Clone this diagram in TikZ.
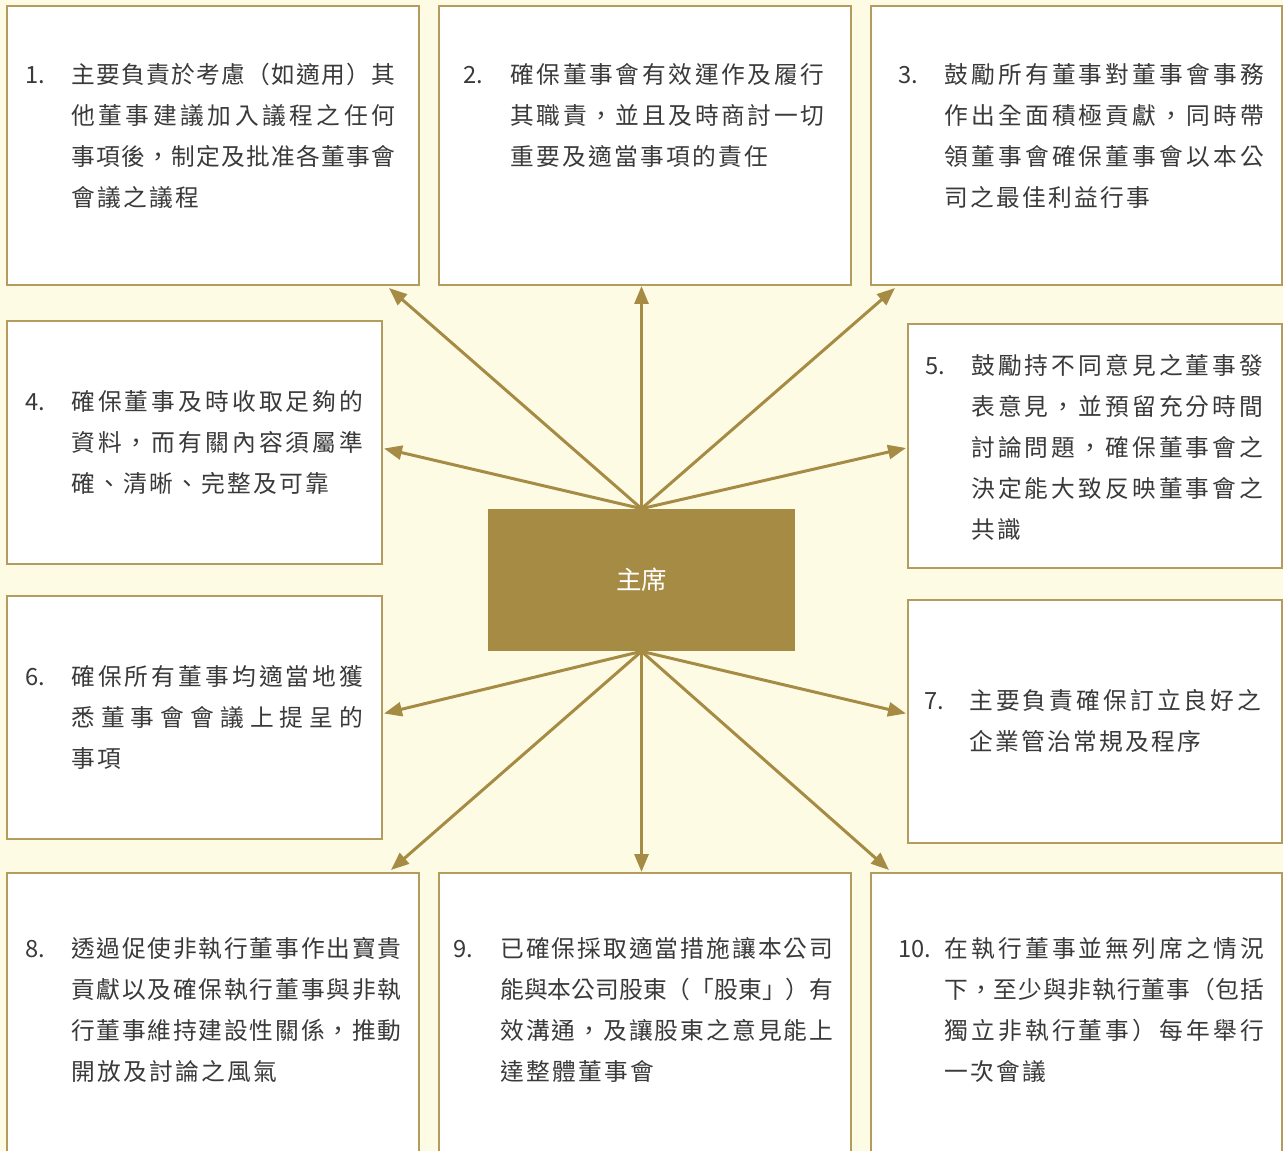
\documentclass[tikz,border=0pt]{standalone}
\usepackage{fontspec}
\setmainfont{Noto Sans CJK TC}
\usetikzlibrary{arrows.meta,fit}

\definecolor{gold}{HTML}{A68B45}
\definecolor{goldline}{HTML}{B39C5E}
\definecolor{cream}{HTML}{FEFBE4}
\definecolor{ink}{HTML}{3A3A3A}

% one justified line / one natural line of the duty texts
\makeatletter
\newcommand{\justline}[2]{\makebox[#1][s]{\@tfor\jl@c:=#2\do{\jl@c\hfil}\unskip}}
\newcommand{\natline}[1]{\@tfor\jl@c:=#1\do{\jl@c\kern0.045cm}\unkern}
\makeatother
\newcommand{\firstup}{\rule{0pt}{0.5cm}}

\tikzstyle{box}=[rectangle, draw=goldline, line width=0.04cm,
                 fill=white, inner sep=0pt]
\tikzstyle{chairbox}=[rectangle, fill=gold, inner sep=0pt]
\tikzstyle{num}=[anchor=north west, inner sep=0pt, text=ink,
                 font=\fontsize{13.5}{23.3}\selectfont]
\tikzstyle{duty}=[anchor=north west, inner sep=0pt, align=left, text=ink,
                  font=\fontsize{13.5}{23.3}\selectfont]
\tikzstyle{link}=[-{Triangle[length=0.36cm,width=0.28cm]}, draw=gold,
                  line width=0.06cm]

\begin{document}
\begin{tikzpicture}[x=0.02cm, y=-0.02cm]

  \useasboundingbox (0,0) rectangle (1283,1151);
  \clip (0,0) rectangle (1283,1151);
  \fill[cream] (0,0) rectangle (1283,1151);

  %%%%%%%%%%%%%%%%%%%%%%%%%%%%%%
  % boxes
  \node (b1) [box, fit={(7,6) (419,285)}] {};
  \node (b2) [box, fit={(439,6) (851,285)}] {};
  \node (b3) [box, fit={(871,6) (1282,285)}] {};
  \node (b4) [box, fit={(7,321) (382,564)}] {};
  \node (b5) [box, fit={(908,324) (1282,568)}] {};
  \node (b6) [box, fit={(7,596) (382,839)}] {};
  \node (b7) [box, fit={(908,600) (1282,843)}] {};
  \node (b8) [box, fit={(7,873) (419,1170)}] {};
  \node (b9) [box, fit={(439,873) (851,1170)}] {};
  \node (b10) [box, fit={(871,873) (1282,1170)}] {};

  \node (chair) [chairbox, fit={(488,509) (795,651)}] {};
  \node (chairname) at (chair.center) [text=white,
    font=\fontsize{14.5}{16}\selectfont] {主席};

  %%%%%%%%%%%%%%%%%%%%%%%%%%%%%%
  % texts
  \node (n1) at (25,58) [num] {\firstup 1.};
  \node (t1) at (71,58) [duty] {\firstup\justline{6.48cm}{主要負責於考慮（如適用）其}\\
    \justline{6.48cm}{他董事建議加入議程之任何}\\
    \justline{6.48cm}{事項後，制定及批准各董事會}\\
    \natline{會議之議程}};

  \node (n2) at (463,58) [num] {\firstup 2.};
  \node (t2) at (510,58) [duty] {\firstup\justline{6.28cm}{確保董事會有效運作及履行}\\
    \justline{6.28cm}{其職責，並且及時商討一切}\\
    \natline{重要及適當事項的責任}};

  \node (n3) at (898,58) [num] {\firstup 3.};
  \node (t3) at (944,58) [duty] {\firstup\justline{6.40cm}{鼓勵所有董事對董事會事務}\\
    \justline{6.40cm}{作出全面積極貢獻，同時帶}\\
    \justline{6.40cm}{領董事會確保董事會以本公}\\
    \natline{司之最佳利益行事}};

  \node (n4) at (25,385) [num] {\firstup 4.};
  \node (t4) at (71,385) [duty] {\firstup\justline{5.84cm}{確保董事及時收取足夠的}\\
    \justline{5.84cm}{資料，而有關內容須屬準}\\
    \natline{確、清晰、完整及可靠}};

  \node (n5) at (925,349) [num] {\firstup 5.};
  \node (t5) at (971,349) [duty] {\firstup\justline{5.84cm}{鼓勵持不同意見之董事發}\\
    \justline{5.84cm}{表意見，並預留充分時間}\\
    \justline{5.84cm}{討論問題，確保董事會之}\\
    \justline{5.84cm}{決定能大致反映董事會之}\\
    \natline{共識}};

  \node (n6) at (25,660) [num] {\firstup 6.};
  \node (t6) at (71,660) [duty] {\firstup\justline{5.84cm}{確保所有董事均適當地獲}\\
    \justline{5.84cm}{悉董事會會議上提呈的}\\
    \natline{事項}};

  \node (n7) at (924,684) [num] {\firstup 7.};
  \node (t7) at (969,684) [duty] {\firstup\justline{5.84cm}{主要負責確保訂立良好之}\\
    \natline{企業管治常規及程序}};

  \node (n8) at (25,932) [num] {\firstup 8.};
  \node (t8) at (71,932) [duty] {\firstup\justline{6.60cm}{透過促使非執行董事作出寶貴}\\
    \justline{6.60cm}{貢獻以及確保執行董事與非執}\\
    \justline{6.60cm}{行董事維持建設性關係，推動}\\
    \natline{開放及討論之風氣}};

  \node (n9) at (453,932) [num] {\firstup 9.};
  \node (t9) at (500,932) [duty] {\firstup\justline{6.66cm}{已確保採取適當措施讓本公司}\\
    \justline{6.66cm}{能與本公司股東（「股東」）有}\\
    \justline{6.66cm}{效溝通，及讓股東之意見能上}\\
    \natline{達整體董事會}};

  \node (n10) at (898,932) [num] {\firstup 10.};
  \node (t10) at (944,932) [duty] {\firstup\justline{6.40cm}{在執行董事並無列席之情況}\\
    \justline{6.40cm}{下，至少與非執行董事（包括}\\
    \justline{6.40cm}{獨立非執行董事）每年舉行}\\
    \natline{一次會議}};

  %%%%%%%%%%%%%%%%%%%%%%%%%%%%%%
  % arrows
  \draw [link] (chair.north) to ([shift={(-31,2)}]b1.south east);
  \draw [link] (chair.north) to (chair.north |- b2.south);
  \draw [link] (chair.north) to ([shift={(25,2)}]b3.south west);
  \draw [link] (chair.north) to ([shift={(1,6)}]b4.east);
  \draw [link] (chair.north) to ([shift={(-1,2)}]b5.west);

  \draw [link] (chair.south) to ([shift={(1,-4)}]b6.east);
  \draw [link] (chair.south) to ([shift={(-1,-8)}]b7.west);
  \draw [link] (chair.south) to ([shift={(-29,-2)}]b8.north east);
  \draw [link] (chair.south) to (chair.south |- b9.north);
  \draw [link] (chair.south) to ([shift={(19,-2)}]b10.north west);

\end{tikzpicture}
\end{document}
